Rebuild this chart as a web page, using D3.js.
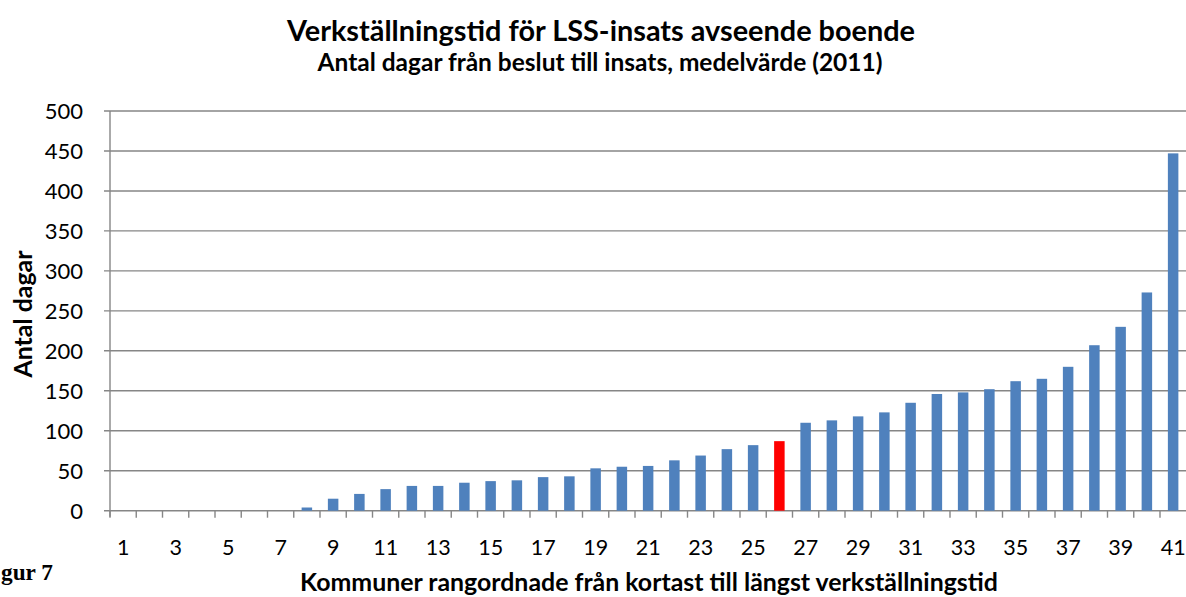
<!DOCTYPE html>
<html><head><meta charset="utf-8">
<script src="https://cdn.jsdelivr.net/npm/d3@7"></script>
<style>
body{margin:0;background:#fff;}
svg{display:block;}
text{font-family:Lato,"Open Sans",sans-serif;fill:#000;}
</style></head>
<body>
<svg id="chart" width="1186" height="597"></svg>
<script>
const categories = d3.range(1, 42).map(String);
const values = [0,0,0,0,0,0,0,4,15,21,27,31,31,35,37,38,42,43,53,55,56,63,69,77,82,87,110,113,118,123,135,146,148,152,162,165,180,207,230,273,447];
const highlight = ["26"];
const yTicks = [0,50,100,150,200,250,300,350,400,450,500];
const xTickLabels = categories.filter((d,i)=>i%2===0);
const title = "Verkställningstid för LSS-insats avseende boende";
const subtitle = "Antal dagar från beslut till insats, medelvärde (2011)";
const yTitle = "Antal dagar";
const xTitle = "Kommuner rangordnade från kortast till längst verkställningstid";
const figLabel = "gur 7";

const svg = d3.select("#chart");
const mLeft = 110, mTop = 111, mBottom = 510.7, step = 26.25;
const mRight = mLeft + step*categories.length;

const x = d3.scaleBand().domain(categories).range([mLeft, mRight]).padding(0);
const y = d3.scaleLinear().domain([0,500]).range([mBottom, mTop]);
const grid = "#868686";

function fit(sel, target){
  const base = parseFloat(sel.style("font-size"));
  const w = sel.node().getComputedTextLength();
  sel.style("font-size", (base*target/w).toFixed(2)+"px");
  return sel;
}

// gridlines
svg.append("g").selectAll("line").data(yTicks).join("line")
  .attr("x1", mLeft-6).attr("x2", 1186).attr("y1", d=>y(d)).attr("y2", d=>y(d))
  .attr("stroke", grid).attr("stroke-width", 1.4);

// y axis line
svg.append("line").attr("x1", mLeft).attr("x2", mLeft).attr("y1", mTop).attr("y2", mBottom+6)
  .attr("stroke", grid).attr("stroke-width", 1.4);

// y tick labels
const yAxis = d3.axisLeft(y).tickValues(yTicks).tickSize(0).tickPadding(0);
const gy = svg.append("g").attr("transform", `translate(${mLeft-27},0)`).call(yAxis);
gy.select(".domain").remove();
gy.selectAll("text").style("font-family","Lato,sans-serif").style("font-size","22px").attr("fill","#000").attr("dy","0.36em");

// bars
svg.append("g").selectAll("rect").data(categories).join("rect")
  .attr("x", d=>x(d)+x.bandwidth()*0.3)
  .attr("width", x.bandwidth()*0.4)
  .attr("y", (d,i)=>y(values[i]))
  .attr("height", (d,i)=>y(0)-y(values[i]))
  .attr("fill", d=>highlight.includes(d) ? "#FF0000" : "#4F81BD");

// x tick marks at category boundaries
const bounds = categories.map(c=>x(c));
svg.append("g").selectAll("line").data(bounds).join("line")
  .attr("x1", d=>d).attr("x2", d=>d).attr("y1", mBottom).attr("y2", mBottom+7)
  .attr("stroke", grid).attr("stroke-width", 1.4);

// x tick labels
const xAxis = d3.axisBottom(x).tickValues(xTickLabels).tickSize(0).tickPadding(0);
const gx = svg.append("g").attr("transform", `translate(0,${555})`).call(xAxis);
gx.select(".domain").remove();
gx.selectAll("text").style("font-family","Lato,sans-serif").style("font-size","21.5px").attr("fill","#000").attr("dy","0");

// titles
fit(svg.append("text").attr("x", 601).attr("y", 41).attr("text-anchor","middle")
  .style("font-size","28px").style("font-weight","bold").text(title), 628);
fit(svg.append("text").attr("x", 600).attr("y", 71).attr("text-anchor","middle")
  .style("font-size","22px").style("font-weight","bold").text(subtitle), 565);
fit(svg.append("text").attr("transform","translate(32,314) rotate(-90)").attr("text-anchor","middle")
  .style("font-size","20px").style("font-weight","bold").text(yTitle), 127);
fit(svg.append("text").attr("x", 649).attr("y", 591).attr("text-anchor","middle")
  .style("font-size","22px").style("font-weight","bold").text(xTitle), 698);
fit(svg.append("text").attr("x", 1).attr("y", 580).attr("text-anchor","start")
  .style("font-family","'Liberation Serif',serif").style("font-size","25px").style("font-weight","bold").text(figLabel), 52);
</script>
</body></html>
